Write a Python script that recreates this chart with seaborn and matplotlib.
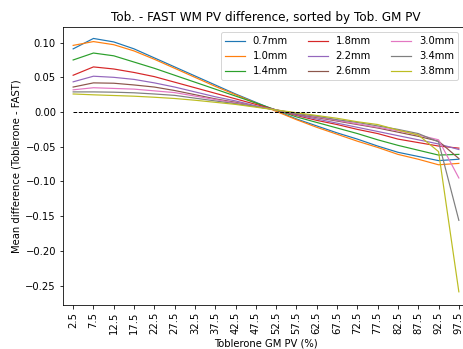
import matplotlib
matplotlib.use("Agg")
import matplotlib.pyplot as plt
import seaborn as sns
import pandas as pd

# GM partial-volume bin centres (%)
gm_pv = [2.5, 7.5, 12.5, 17.5, 22.5, 27.5, 32.5, 37.5, 42.5, 47.5,
         52.5, 57.5, 62.5, 67.5, 72.5, 77.5, 82.5, 87.5, 92.5, 97.5]

resolutions = ["0.7mm", "1.0mm", "1.4mm", "1.8mm", "2.2mm",
               "2.6mm", "3.0mm", "3.4mm", "3.8mm"]

# Mean WM PV difference (Toblerone - FAST) per GM PV bin
diff_07 = [0.091, 0.106, 0.101, 0.091, 0.078, 0.065, 0.052, 0.039, 0.026, 0.014,
           0.002, -0.010, -0.020, -0.030, -0.039, -0.049, -0.058, -0.064, -0.070, -0.068]
diff_10 = [0.096, 0.1015, 0.097, 0.088, 0.076, 0.063, 0.050, 0.037, 0.025, 0.013,
           0.001, -0.011, -0.022, -0.032, -0.042, -0.051, -0.061, -0.068, -0.076, -0.074]
diff_14 = [0.075, 0.085, 0.081, 0.072, 0.063, 0.053, 0.043, 0.033, 0.023, 0.013,
           0.003, -0.007, -0.015, -0.023, -0.031, -0.040, -0.048, -0.055, -0.062, -0.061]
diff_18 = [0.053, 0.065, 0.062, 0.057, 0.051, 0.043, 0.035, 0.027, 0.019, 0.011,
           0.003, -0.005, -0.012, -0.018, -0.025, -0.031, -0.039, -0.044, -0.049, -0.052]
diff_22 = [0.0435, 0.0516, 0.050, 0.047, 0.042, 0.036, 0.029, 0.022, 0.016, 0.009,
           0.003, -0.004, -0.010, -0.016, -0.022, -0.028, -0.034, -0.040, -0.046, -0.054]
diff_26 = [0.036, 0.042, 0.0415, 0.039, 0.036, 0.031, 0.025, 0.019, 0.014, 0.008,
           0.003, -0.003, -0.008, -0.013, -0.018, -0.023, -0.029, -0.035, -0.042, -0.067]
diff_30 = [0.032, 0.035, 0.034, 0.033, 0.0305, 0.028, 0.023, 0.018, 0.013, 0.008,
           0.003, -0.002, -0.007, -0.012, -0.017, -0.022, -0.027, -0.033, -0.040, -0.095]
diff_34 = [0.029, 0.029, 0.0286, 0.0277, 0.026, 0.024, 0.020, 0.016, 0.012, 0.008,
           0.003, -0.002, -0.006, -0.011, -0.015, -0.020, -0.025, -0.031, -0.043, -0.156]
diff_38 = [0.026, 0.0248, 0.0238, 0.0228, 0.0213, 0.0195, 0.017, 0.014, 0.011, 0.007,
           0.003, -0.001, -0.005, -0.009, -0.014, -0.018, -0.026, -0.033, -0.057, -0.259]

series = [diff_07, diff_10, diff_14, diff_18, diff_22,
          diff_26, diff_30, diff_34, diff_38]

rows = []
for res, vals in zip(resolutions, series):
    for x, v in zip(gm_pv, vals):
        rows.append({"gm_pv": x, "diff": v, "res": res})
df = pd.DataFrame(rows)

fig = plt.figure(figsize=(463 / 72, 349 / 72), dpi=72)
ax = fig.add_axes([63 / 463, 1 - 305 / 349, 406 / 463, 278 / 349])

sns.lineplot(data=df, x="gm_pv", y="diff", hue="res", hue_order=resolutions,
             palette=sns.color_palette("tab10", len(resolutions)),
             linewidth=1.2, ax=ax)

ax.hlines(0, gm_pv[0], gm_pv[-1], colors="black", linestyles="--", linewidth=1.0)

ax.set_xlim(0, 100)
ax.set_xticks(gm_pv)
ax.set_xticklabels([str(v) for v in gm_pv], rotation=90)
ax.set_ylim(-0.278, 0.1225)
ax.set_yticks([0.10, 0.05, 0.00, -0.05, -0.10, -0.15, -0.20, -0.25])

ax.set_xlabel("Toblerone GM PV (%)")
ax.set_ylabel("Mean difference (Toblerone - FAST)")
ax.set_title("Tob. - FAST WM PV difference, sorted by Tob. GM PV")

handles, labels = ax.get_legend_handles_labels()
for h in handles:
    h.set_linewidth(1.2)
ax.legend(handles, labels, ncol=3, loc="upper right",
          bbox_to_anchor=(0.985, 1.0))

fig.savefig("out.png", dpi=72)
